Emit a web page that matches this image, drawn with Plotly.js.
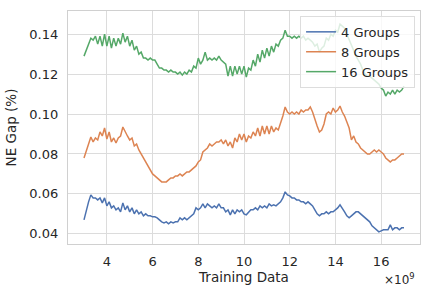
<!DOCTYPE html>
<html>
<head>
<meta charset="utf-8">
<script src="https://cdn.plot.ly/plotly-3.0.1.min.js"></script>
<style>html,body{margin:0;padding:0;background:#fff;}#chart{width:429px;height:293px;}</style>
</head>
<body>
<div id="chart"></div>
<script>
// Training data (in units of 1e9)
const trainingData = [3.0,3.1,3.2,3.3,3.4,3.5,3.6,3.7,3.8,3.9,
4.0,4.1,4.2,4.3,4.4,4.5,4.6,4.7,4.8,4.9,
5.0,5.1,5.2,5.3,5.4,5.5,5.6,5.7,5.8,5.9,
6.0,6.1,6.2,6.3,6.4,6.5,6.6,6.7,6.8,6.9,
7.0,7.1,7.2,7.3,7.4,7.5,7.6,7.7,7.8,7.9,
8.0,8.1,8.2,8.3,8.4,8.5,8.6,8.7,8.8,8.9,
9.0,9.1,9.2,9.3,9.4,9.5,9.6,9.7,9.8,9.9,
10.0,10.1,10.2,10.3,10.4,10.5,10.6,10.7,10.8,10.9,
11.0,11.1,11.2,11.3,11.4,11.5,11.6,11.7,11.8,11.9,
12.0,12.1,12.2,12.3,12.4,12.5,12.6,12.7,12.8,12.9,
13.0,13.1,13.2,13.3,13.4,13.5,13.6,13.7,13.8,13.9,
14.0,14.1,14.2,14.3,14.4,14.5,14.6,14.7,14.8,14.9,
15.0,15.1,15.2,15.3,15.4,15.5,15.6,15.7,15.8,15.9,
16.0,16.1,16.2,16.3,16.4,16.5,16.6,16.7,16.8,16.9,
17.0];

const groups4 = [0.047,0.052,0.056,0.0595,0.058,0.058,0.057,0.058,0.0555,0.058,
0.054,0.056,0.053,0.054,0.052,0.053,0.051,0.0555,0.052,0.054,
0.051,0.053,0.050,0.052,0.050,0.051,0.049,0.050,0.049,0.049,
0.0485,0.0485,0.048,0.047,0.046,0.0455,0.046,0.045,0.046,0.0455,
0.046,0.046,0.048,0.047,0.048,0.047,0.048,0.049,0.050,0.053,
0.052,0.053,0.055,0.053,0.055,0.054,0.053,0.054,0.053,0.055,
0.053,0.053,0.051,0.052,0.0495,0.052,0.050,0.052,0.051,0.052,
0.050,0.0495,0.051,0.052,0.052,0.053,0.052,0.054,0.053,0.054,
0.053,0.055,0.054,0.0545,0.054,0.055,0.056,0.058,0.061,0.0595,
0.059,0.058,0.058,0.057,0.057,0.056,0.056,0.055,0.056,0.055,
0.054,0.052,0.050,0.049,0.050,0.050,0.051,0.050,0.051,0.051,
0.052,0.053,0.0545,0.053,0.051,0.049,0.048,0.049,0.050,0.051,
0.051,0.050,0.049,0.048,0.047,0.046,0.044,0.043,0.042,0.041,
0.0415,0.042,0.042,0.042,0.0445,0.042,0.043,0.043,0.042,0.043,
0.043];

const groups8 = [0.078,0.082,0.085,0.0885,0.086,0.088,0.087,0.091,0.089,0.093,
0.0875,0.091,0.086,0.088,0.0855,0.088,0.089,0.0935,0.091,0.089,
0.087,0.088,0.084,0.085,0.082,0.080,0.078,0.076,0.074,0.072,
0.070,0.069,0.068,0.067,0.066,0.066,0.066,0.067,0.068,0.068,
0.069,0.069,0.070,0.069,0.070,0.071,0.071,0.072,0.073,0.074,
0.076,0.077,0.081,0.082,0.083,0.085,0.084,0.085,0.086,0.086,
0.087,0.085,0.087,0.084,0.086,0.083,0.088,0.086,0.090,0.087,
0.090,0.086,0.089,0.088,0.091,0.089,0.093,0.089,0.094,0.090,
0.094,0.090,0.094,0.091,0.093,0.092,0.095,0.099,0.1035,0.101,
0.100,0.101,0.100,0.101,0.100,0.102,0.101,0.102,0.102,0.1035,
0.101,0.097,0.094,0.091,0.092,0.095,0.100,0.101,0.100,0.103,
0.101,0.102,0.104,0.101,0.099,0.096,0.093,0.087,0.089,0.086,
0.085,0.083,0.082,0.081,0.080,0.080,0.081,0.082,0.081,0.082,
0.081,0.080,0.078,0.077,0.076,0.077,0.077,0.078,0.079,0.080,
0.080];

const groups16 = [0.129,0.132,0.134,0.138,0.137,0.139,0.135,0.139,0.134,0.140,
0.134,0.139,0.133,0.138,0.134,0.138,0.135,0.1405,0.136,0.139,
0.134,0.137,0.132,0.134,0.130,0.131,0.128,0.128,0.127,0.128,
0.127,0.127,0.125,0.123,0.123,0.122,0.122,0.121,0.122,0.121,
0.121,0.120,0.121,0.1195,0.121,0.120,0.122,0.121,0.124,0.123,
0.128,0.125,0.127,0.131,0.127,0.128,0.127,0.128,0.127,0.129,
0.127,0.126,0.125,0.119,0.124,0.119,0.124,0.120,0.124,0.120,
0.124,0.1185,0.123,0.122,0.127,0.124,0.130,0.126,0.132,0.128,
0.133,0.129,0.134,0.131,0.135,0.134,0.137,0.138,0.142,0.139,
0.139,0.138,0.139,0.138,0.139,0.138,0.139,0.137,0.138,0.137,
0.136,0.134,0.135,0.131,0.133,0.134,0.138,0.137,0.140,0.139,
0.142,0.141,0.145,0.144,0.143,0.140,0.137,0.134,0.132,0.129,
0.127,0.125,0.122,0.120,0.119,0.119,0.118,0.117,0.116,0.115,
0.113,0.112,0.109,0.111,0.110,0.112,0.110,0.112,0.111,0.112,
0.114];

const seriesNames = ["4 Groups","8 Groups","16 Groups"];
const seriesColors = ["#4c72b0","#dd8452","#55a868"];
const xTickVals = [4,6,8,10,12,14,16];
const yTickVals = [0.04,0.06,0.08,0.10,0.12,0.14];
const yTickText = ["0.04","0.06","0.08","0.10","0.12","0.14"];

const allY = [groups4, groups8, groups16];
const traces = allY.map((ys,i)=>({
  type:'scatter', mode:'lines', x:trainingData, y:ys, name:seriesNames[i],
  line:{color:seriesColors[i], width:1.5}
}));

const FONT = "DejaVu Sans, sans-serif";
const layout = {
  width:429, height:293,
  margin:{l:68, r:9, t:11, b:49},
  paper_bgcolor:'#ffffff', plot_bgcolor:'#ffffff',
  font:{family:FONT, size:13, color:'#262626'},
  showlegend:true,
  legend:{x:0.986, y:0.979, xanchor:'right', yanchor:'top',
    bgcolor:'rgba(255,255,255,0.8)', bordercolor:'#dddddd', borderwidth:1,
    font:{family:FONT, size:13, color:'#262626'}, itemwidth:30, tracegroupgap:0},
  xaxis:{range:[2.3,17.7], tickvals:xTickVals, ticktext:xTickVals.map(String),
    showgrid:true, gridcolor:'#dcdcdc', gridwidth:1, zeroline:false,
    showline:true, mirror:true, linecolor:'#d0d0d0', linewidth:1.2,
    ticks:'', ticklabelstandoff:5,
    title:{text:'Training Data', standoff:3, font:{family:FONT, size:13.5, color:'#262626'}}},
  yaxis:{range:[0.0349,0.1516], tickvals:yTickVals, ticktext:yTickText,
    showgrid:true, gridcolor:'#dcdcdc', gridwidth:1, zeroline:false,
    showline:true, mirror:true, linecolor:'#d0d0d0', linewidth:1.2,
    ticks:'', ticklabelstandoff:6,
    title:{text:'NE Gap (%)', standoff:9, font:{family:FONT, size:13.5, color:'#262626'}}},
  annotations:[{xref:'paper', yref:'paper', x:0.992, y:-0.15, xanchor:'right', yanchor:'middle',
    text:'×10<sup>9</sup>', showarrow:false, font:{family:FONT, size:12, color:'#262626'}}]
};
Plotly.newPlot('chart', traces, layout, {staticPlot:true, displayModeBar:false});
</script>
</body>
</html>
